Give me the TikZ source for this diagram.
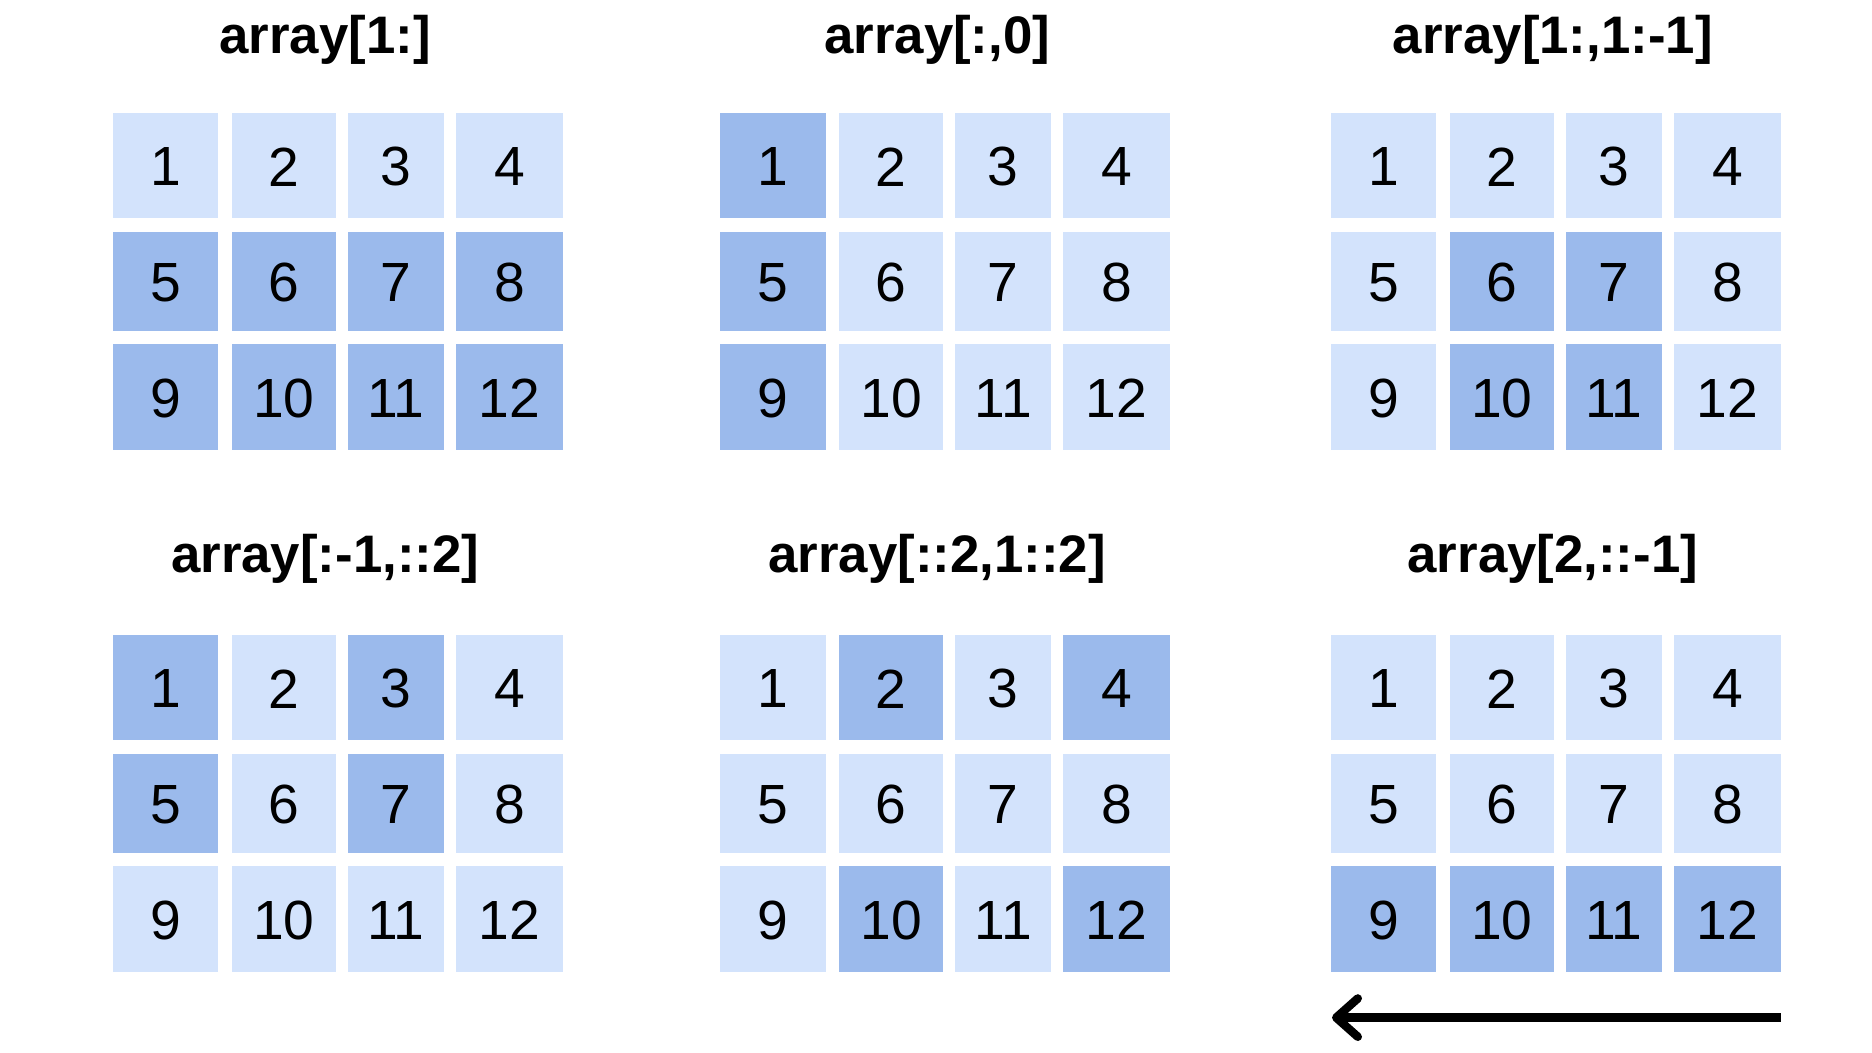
\documentclass[tikz,border=0pt]{standalone}
\usepackage{fontspec}
\setmainfont{Liberation Sans}
\usetikzlibrary{arrows.meta}
\definecolor{lt}{HTML}{D3E3FC}
\definecolor{dk}{HTML}{9BBAEC}
\begin{document}
\begin{tikzpicture}[x=1pt,y=-1pt,
  cell/.style={inner sep=0pt,outer sep=0pt,font=\fontsize{46}{50}\selectfont},
  ttl/.style={font=\fontsize{44}{50}\selectfont\bfseries}]
\useasboundingbox (0,0) rectangle (1560,877);
% args: name, x0, y0, list of dark cell numbers
\def\xs{{0,99,196,280}}
\newcommand\grid[4]{%
  \foreach \n in {1,...,12}{%
    \pgfmathtruncatemacro\c{mod(\n-1,4)}%
    \pgfmathtruncatemacro\r{int((\n-1)/4)}%
    \pgfmathsetmacro\xa{#2+{0,99,196,286}[\c]}%
    \pgfmathsetmacro\xb{#2+{88,186,276,375}[\c]}%
    \pgfmathsetmacro\ya{#3+{0,99,193}[\r]}%
    \pgfmathsetmacro\yb{#3+{88,182,281}[\r]}%
    \def\fc{lt}%
    \foreach \d in {#4}{\ifnum\d=\n\relax\xdef\fc{dk}\fi}%
    \fill[\fc] (\xa,\ya) rectangle (\xb,\yb);
    \node[cell] (#1c\n) at ({(\xa+\xb)/2},{(\ya+\yb)/2+1}) {\n};
    \gdef\fc{lt}%
  }}
\node[ttl] (t1) at (271,33) {array[1:]};
\node[ttl] (t2) at (781,33) {array[:,0]};
\node[ttl] (t3) at (1294,33) {array[1:,1:-1]};
\node[ttl] (t4) at (271,466) {array[:-1,::2]};
\node[ttl] (t5) at (781,466) {array[::2,1::2]};
\node[ttl] (t6) at (1294,466) {array[2,::-1]};
\grid{a}{94}{94}{5,6,7,8,9,10,11,12}
\grid{b}{600}{94}{1,5,9}
\grid{c}{1109}{94}{6,7,10,11}
\grid{d}{94}{529}{1,3,5,7}
\grid{e}{600}{529}{2,4,10,12}
\grid{f}{1109}{529}{9,10,11,12}
\coordinate (ae) at (1484,848);
\coordinate (as) at (1110,848);
\draw[line width=7pt,-{Straight Barb[length=18pt,width=32pt,line cap=round,line join=round]}] (ae) -- (as);
\end{tikzpicture}
\end{document}
